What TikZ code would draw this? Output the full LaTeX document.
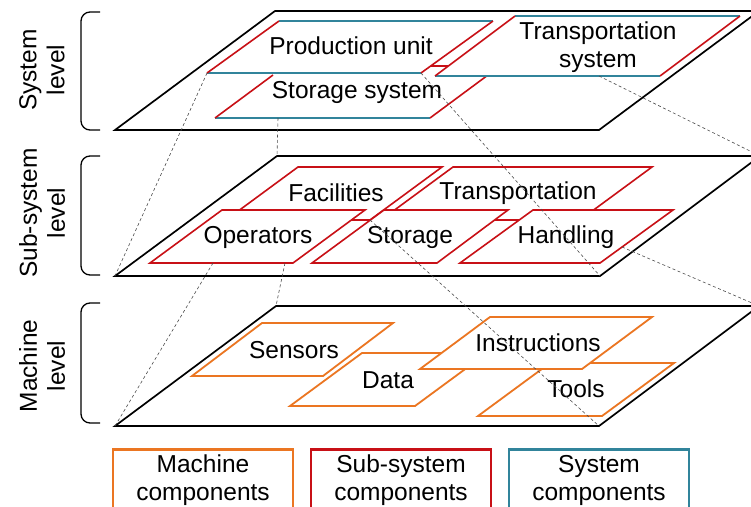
\documentclass[tikz,border=0pt]{standalone}
\usepackage{fontspec}
\setmainfont{Liberation Sans}
\definecolor{syscol}{RGB}{49,132,155}
\definecolor{subcol}{RGB}{200,16,22}
\definecolor{maccol}{RGB}{235,118,34}
\begin{document}
\begin{tikzpicture}[x=1pt,y=-1pt,
  plane/.style={draw=black,line width=1.7pt,fill=white,line join=miter},
  sysedge/.style={draw=syscol,line width=2.6pt},
  subedge/.style={draw=subcol,line width=1.6pt},
  macedge/.style={draw=maccol,line width=1.8pt,fill=white,line join=miter},
  redbox/.style={draw=subcol,line width=1.6pt,fill=white,line join=miter},
  proj/.style={draw=black!70,line width=0.6pt,dash pattern=on 3pt off 2.5pt},
  lbl/.style={font=\fontsize{24.5}{28}\selectfont,align=center,inner sep=0pt},
  brk/.style={draw=black,line width=1.3pt,rounded corners=9pt},
  legend/.style={font=\fontsize{24.5}{28}\selectfont,align=center,line width=2.6pt,fill=white,minimum width=180pt,minimum height=62pt,anchor=north,inner sep=0pt}]
\useasboundingbox (0,0) rectangle (751,506);
\clip (0,0) rectangle (751,506);

% ---------- level planes ----------
\draw[plane] (115,130) -- (275,11) -- (759,11) -- (599,130) -- cycle;
\draw[plane] (115,276) -- (277,156) -- (760,156) -- (600,276) -- cycle;
\draw[plane] (115,426) -- (276,306) -- (759,306) -- (599,426) -- cycle;

% ---------- brackets and side labels ----------
\draw[brk] (100,12) -- (81,12) -- (81,130) -- (100,130);
\draw[brk] (100,156) -- (81,156) -- (81,275) -- (100,275);
\draw[brk] (100,303) -- (81,303) -- (81,423) -- (100,423);
\node[lbl,rotate=90] (lsys) at (42,70) {System\\level};
\node[lbl,rotate=90] (lsub) at (42,213) {Sub-system\\level};
\node[lbl,rotate=90] (lmac) at (42,366) {Machine\\level};

% ---------- system level ----------
% Storage system
\coordinate (st-bl) at (215,118); \coordinate (st-br) at (430,118);
\coordinate (st-tl) at (273,75);  \coordinate (st-tr) at (488,75);
\fill[white] (st-bl) -- (st-tl) -- (st-tr) -- (st-br) -- cycle;
\draw[sysedge] (st-bl) -- (st-br);
\draw[subedge] (st-bl) -- (st-tl) (st-br) -- (st-tr);
% Production unit
\coordinate (pu-bl) at (207,73); \coordinate (pu-br) at (421,73);
\coordinate (pu-tl) at (279,21); \coordinate (pu-tr) at (493,21);
\fill[white] (pu-bl) -- (pu-tl) -- (pu-tr) -- (pu-br) -- cycle;
\draw[sysedge] (pu-bl) -- (pu-br) (pu-tl) -- (pu-tr);
\draw[subedge] (pu-bl) -- (pu-tl) (pu-br) -- (pu-tr);
% Transportation system
\coordinate (ts-bl) at (435,76); \coordinate (ts-br) at (660,76);
\coordinate (ts-tl) at (515,16); \coordinate (ts-tr) at (740,16);
\fill[white] (ts-bl) -- (ts-tl) -- (ts-tr) -- (ts-br) -- cycle;
\draw[sysedge] (ts-bl) -- (ts-br) (ts-tl) -- (ts-tr);
\draw[subedge] (ts-bl) -- (ts-tl) (ts-br) -- (ts-tr);
\coordinate (j1) at (431,66); \coordinate (j2) at (448,66);
\draw[subedge] (j1) -- (j2);

\node[lbl] (tpu) at (351,46) {Production unit};
\node[lbl] (tst) at (357,92) {Storage system};
\node[lbl] (tts) at (598,47) {Transportation\\system};

% ---------- sub-system level ----------
\draw[redbox] (226,220) -- (298,167) -- (442,167) -- (370,220) -- cycle;
\coordinate (fa-br) at (370,220);
\draw[redbox] (381,220) -- (453,167) -- (652,167) -- (580,220) -- cycle;
\draw[redbox] (150,263) -- (222,210) -- (365,210) -- (293,263) -- cycle;
\draw[redbox] (312,263) -- (384,210) -- (508,210) -- (437,263) -- cycle;
\draw[redbox] (460,263) -- (533,210) -- (673,210) -- (600,263) -- cycle;

\node[lbl] (tfa) at (336,193) {Facilities};
\node[lbl] (ttr) at (518,193) {Transportation};
\node[lbl] (top) at (258,237) {Operators};
\node[lbl] (tsg) at (410,237) {Storage};
\node[lbl] (tha) at (566,237) {Handling};

% ---------- machine level ----------
\draw[macedge] (192,376) -- (262,323) -- (393,323) -- (323,376) -- cycle;
\draw[macedge] (290,406) -- (362,353) -- (487,353) -- (415,406) -- cycle;
\draw[macedge] (478,416) -- (550,363) -- (674,363) -- (602,416) -- cycle;
\draw[macedge] (420,369) -- (490,317) -- (652,317) -- (582,369) -- cycle;

\node[lbl] (tse) at (294,350) {Sensors};
\node[lbl] (tda) at (388,380) {Data};
\node[lbl] (tin) at (538,343) {Instructions};
\node[lbl] (tto) at (576,389) {Tools};

% ---------- projection lines ----------
\coordinate (sub-bl) at (115,276); \coordinate (sub-tl) at (277,156);
\coordinate (sub-br) at (600,276); \coordinate (sub-tr) at (760,156);
\coordinate (mac-bl) at (115,426); \coordinate (mac-tl) at (276,306);
\coordinate (mac-br) at (599,426); \coordinate (mac-tr) at (759,306);
\coordinate (st-mid) at (278,118);
\coordinate (ts-mid) at (599,76);
\coordinate (op-b1) at (213,263);
\coordinate (op-b2) at (285,263);
\coordinate (ha-r) at (622,247);
\draw[proj] (pu-bl) -- (sub-bl);
\draw[proj] (st-mid) -- (sub-tl);
\draw[proj] (pu-br) -- (sub-br);
\draw[proj] (ts-mid) -- (sub-tr);
\draw[proj] (op-b1) -- (mac-bl);
\draw[proj] (op-b2) -- (mac-tl);
\draw[proj] (fa-br) -- (mac-br);
\draw[proj] (ha-r) -- (mac-tr);

% ---------- legend ----------
\node[legend,draw=maccol] (lgm) at (203,448) {Machine\\components};
\node[legend,draw=subcol] (lgs) at (401,448) {Sub-system\\components};
\node[legend,draw=syscol] (lgy) at (599,448) {System\\components};
\end{tikzpicture}
\end{document}
